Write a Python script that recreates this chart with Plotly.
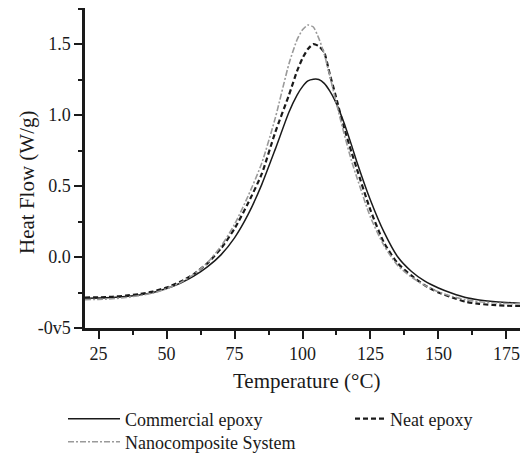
import plotly.graph_objects as go

# Temperature grid (°C)
temp = [20, 25, 30, 35, 40, 45, 50, 55, 60, 65, 70, 75, 80, 85, 90, 95, 98, 100, 102, 104,
        106, 108, 110, 112, 115, 118, 120, 125, 130, 135, 140, 145, 150, 155, 160, 165, 170, 175, 180]

commercial = [-0.290, -0.289, -0.285, -0.278, -0.267, -0.250, -0.222, -0.185, -0.135, -0.070,
              0.015, 0.135, 0.30, 0.51, 0.76, 1.02, 1.14, 1.20, 1.24, 1.252,
              1.25, 1.223, 1.17, 1.10, 0.96, 0.79, 0.67, 0.40, 0.175, 0.002,
              -0.10, -0.17, -0.218, -0.255, -0.285, -0.302, -0.313, -0.320, -0.325]

neat = [-0.285, -0.284, -0.280, -0.272, -0.261, -0.243, -0.215, -0.175, -0.120, -0.045,
        0.06, 0.20, 0.38, 0.585, 0.88, 1.14, 1.31, 1.40, 1.465, 1.50,
        1.485, 1.44, 1.29, 1.15, 0.93, 0.74, 0.62, 0.33, 0.10, -0.044,
        -0.13, -0.20, -0.25, -0.285, -0.315, -0.330, -0.338, -0.343, -0.345]

nano = [-0.300, -0.299, -0.294, -0.285, -0.272, -0.254, -0.224, -0.182, -0.122, -0.040,
        0.075, 0.23, 0.43, 0.66, 0.98, 1.36, 1.53, 1.60, 1.634, 1.62,
        1.54, 1.43, 1.28, 1.12, 0.89, 0.68, 0.56, 0.28, 0.08, -0.06,
        -0.14, -0.20, -0.245, -0.278, -0.300, -0.315, -0.322, -0.327, -0.330]

series_names = ["Commercial epoxy", "Neat epoxy", "Nanocomposite System"]

y_tickvals = [-0.5, 0.0, 0.5, 1.0, 1.5]
y_ticktext = ["-0v5", "0.0", "0.5", "1.0", "1.5"]
x_tickvals = [25, 50, 75, 100, 125, 150, 175]

FONT = "Liberation Serif, Times New Roman, serif"
INK = "#1a1a1a"

fig = go.Figure()
fig.add_trace(go.Scatter(x=temp, y=commercial, mode="lines", name=series_names[0],
                         line=dict(color="#1a1a1a", width=1.5, shape="spline", smoothing=0.6),
                         legend="legend"))
fig.add_trace(go.Scatter(x=temp, y=neat, mode="lines", name=series_names[1],
                         line=dict(color="#1a1a1a", width=2.2, dash="5px,3px", shape="spline", smoothing=0.6),
                         legend="legend2"))
fig.add_trace(go.Scatter(x=temp, y=nano, mode="lines", name=series_names[2],
                         line=dict(color="#9a9a9a", width=1.6, dash="6px,2px,2px,2px", shape="spline", smoothing=0.6),
                         legend="legend3"))

legend_common = dict(font=dict(family=FONT, size=18, color=INK), bgcolor="rgba(0,0,0,0)",
                     xanchor="left", yanchor="middle", borderwidth=0)

fig.update_layout(
    width=521, height=453,
    margin=dict(l=85, r=1, t=8, b=125, autoexpand=False),
    paper_bgcolor="white", plot_bgcolor="white",
    font=dict(family=FONT, size=18, color=INK),
    showlegend=True,
    legend=dict(x=(63 - 85) / 435, y=(328 - 419) / 320, itemwidth=52, **legend_common),
    legend2=dict(x=(350 - 85) / 435, y=(328 - 419) / 320, itemwidth=30, **legend_common),
    legend3=dict(x=(63 - 85) / 435, y=(328 - 442) / 320, itemwidth=52, **legend_common),
    xaxis=dict(range=[20, 180], showgrid=False, zeroline=False, automargin=False,
               showline=True, linecolor=INK, linewidth=2.5,
               ticks="outside", ticklen=8, tickwidth=2, tickcolor=INK,
               tickvals=x_tickvals, tickfont=dict(family=FONT, size=18, color=INK),
               minor=dict(ticks="outside", ticklen=4, tickwidth=2, tickcolor=INK, dtick=12.5, tick0=0,
                          showgrid=False)),
    yaxis=dict(range=[-0.5, 1.754], showgrid=False, zeroline=False, automargin=False,
               showline=True, linecolor=INK, linewidth=2.5,
               ticks="outside", ticklen=8, tickwidth=2, tickcolor=INK,
               tickvals=y_tickvals, ticktext=y_ticktext,
               tickfont=dict(family=FONT, size=18, color=INK),
               minor=dict(ticks="outside", ticklen=4, tickwidth=2, tickcolor=INK, dtick=0.25, tick0=0,
                          showgrid=False)),
    annotations=[
        dict(text="Temperature (°C)", xref="paper", yref="paper",
             x=(306 - 85) / 435, y=(328 - 381) / 320, xanchor="center", yanchor="middle",
             showarrow=False, font=dict(family=FONT, size=21, color=INK)),
        dict(text="Heat Flow (W/g)", xref="paper", yref="paper",
             x=(27 - 85) / 435, y=(328 - 183) / 320, xanchor="center", yanchor="middle",
             textangle=-90, showarrow=False, font=dict(family=FONT, size=21, color=INK)),
    ],
)

fig.write_html("out.html")
